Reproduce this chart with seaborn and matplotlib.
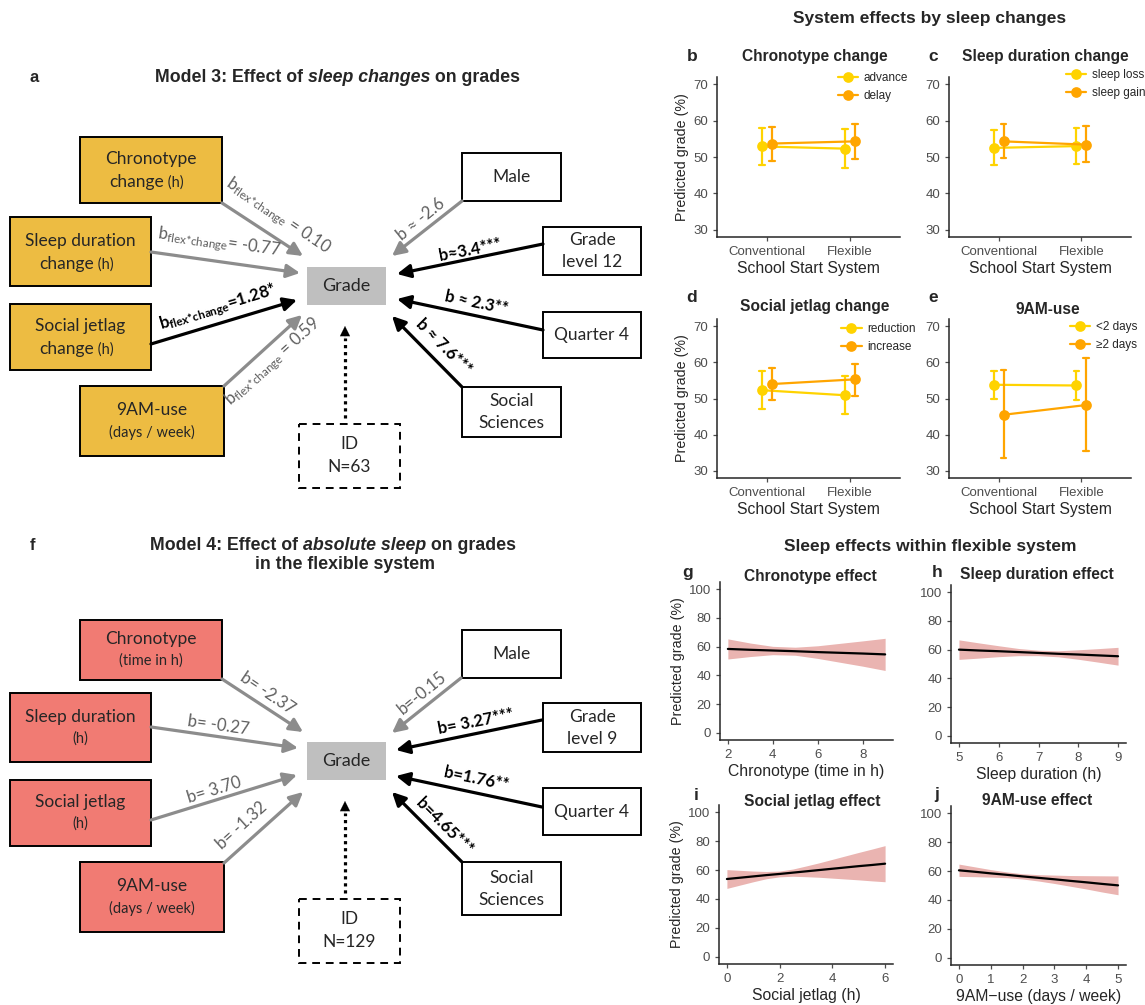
import numpy as np
import pandas as pd
import matplotlib
matplotlib.use('Agg')
import matplotlib.pyplot as plt
from matplotlib.patches import Rectangle
import seaborn as sns

# ---------------- data: panels b-e (rows = group, cols = system) ----------------
systems = ['Conventional', 'Flexible']

chrono_groups = ['advance', 'delay']
chrono_est = [[52.9, 52.3], [53.7, 54.3]]
chrono_lo = [[47.8, 47.0], [49.0, 49.5]]
chrono_hi = [[58.1, 57.6], [58.3, 59.1]]

sdur_groups = ['sleep loss', 'sleep gain']
sdur_est = [[52.5, 53.0], [54.3, 53.4]]
sdur_lo = [[47.8, 48.1], [49.6, 48.5]]
sdur_hi = [[57.5, 58.1], [59.0, 58.4]]

sjl_groups = ['reduction', 'increase']
sjl_est = [[52.3, 50.9], [54.0, 55.3]]
sjl_lo = [[47.2, 45.6], [49.5, 50.6]]
sjl_hi = [[57.6, 56.2], [58.5, 59.6]]

use9_groups = ['<2 days', '≥2 days']
use9_est = [[53.8, 53.6], [45.5, 48.2]]
use9_lo = [[50.0, 49.7], [33.6, 35.5]]
use9_hi = [[57.7, 57.7], [57.8, 61.2]]

# ---------------- data: panels g-j (fit and confidence band) ----------------
chrono_x = [2, 3, 4, 5, 6, 7, 8, 9]
chrono_fit = [58.4, 57.8, 57.3, 56.8, 56.2, 55.7, 55.2, 54.6]
chrono_band_lo = [51.4, 53.1, 54.4, 54.0, 51.8, 49.1, 46.4, 43.4]
chrono_band_hi = [65.4, 62.5, 60.2, 59.6, 60.6, 62.3, 64.0, 65.8]

dur_x = [5, 5.5, 6, 6.5, 7, 7.5, 8, 8.5, 9]
dur_fit = [60.0, 59.4, 58.9, 58.3, 57.7, 57.1, 56.6, 56.0, 55.4]
dur_band_lo = [53.2, 54.1, 55.1, 55.8, 55.8, 55.0, 53.3, 51.3, 49.2]
dur_band_hi = [66.8, 64.7, 62.7, 60.8, 59.6, 59.2, 59.9, 60.7, 61.6]

jet_x = [0, 0.5, 1, 1.5, 2, 2.5, 3, 3.5, 4, 4.5, 5, 5.5, 6]
jet_fit = [53.8, 54.7, 55.6, 56.5, 57.3, 58.2, 59.1, 60.0, 60.9, 61.8, 62.7, 63.5, 64.4]
jet_band_lo = [47.3, 49.6, 51.9, 54.0, 55.3, 55.7, 55.4, 55.0, 54.4, 53.8, 53.2, 52.5, 51.9]
jet_band_hi = [60.3, 59.8, 59.3, 59.0, 59.3, 60.7, 62.8, 65.0, 67.4, 69.8, 72.2, 74.5, 76.9]

am_x = [0, 0.5, 1, 1.5, 2, 2.5, 3, 3.5, 4, 4.5, 5]
am_fit = [60.5, 59.5, 58.4, 57.4, 56.3, 55.3, 54.3, 53.2, 52.2, 51.1, 50.1]
am_band_lo = [56.3, 56.1, 55.8, 55.4, 54.5, 53.1, 51.4, 49.5, 47.6, 45.5, 43.6]
am_band_hi = [64.8, 62.9, 61.0, 59.4, 58.1, 57.5, 57.2, 56.9, 56.8, 56.7, 56.6]

sns.set_style('ticks')
plt.rcParams['font.family'] = ['Liberation Sans', 'DejaVu Sans']
plt.rcParams['mathtext.fontset'] = 'custom'
plt.rcParams['mathtext.rm'] = 'Lato'
plt.rcParams['mathtext.bf'] = 'Lato:bold'
plt.rcParams['mathtext.it'] = 'Lato:italic'

W, H = 1145, 1005
fig = plt.figure(figsize=(W / 100, H / 100), dpi=100)

# full-figure axes in pixel units for the path diagrams
dg = fig.add_axes([0, 0, 1, 1])
dg.set_xlim(0, W)
dg.set_ylim(H, 0)
dg.axis('off')

DIAG = ['Lato', 'DejaVu Sans']
GOLD = '#EDBC42'
SALMON = '#F17B73'
GREYBOX = '#BFBFBF'
GREYARR = '#8C8C8C'
TXT = '#262626'


def box(x0, y0, x1, y1, fc, ls='-', ec='black'):
    dg.add_patch(Rectangle((x0, y0), x1 - x0, y1 - y0, fc=fc, ec=ec, lw=1.4, ls=ls))


def txt(x, y, s, size=12.5, **kw):
    dg.text(x, y, s, ha='center', va='center', fontsize=size, color=TXT, family=DIAG, **kw)


def arrow(p0, p1, color):
    dg.annotate('', xy=p1, xytext=p0,
                arrowprops=dict(arrowstyle='-|>', color=color, lw=2.3,
                                shrinkA=0, shrinkB=0, mutation_scale=20))


def label(x, y, s, rot, bold=False, size=12):
    dg.text(x, y, s, rotation=rot, rotation_mode='anchor', ha='center', va='center',
            fontsize=size, family=DIAG, color='black' if bold else '#5F5F5F',
            fontweight='bold' if bold else 'normal')


def title_parts(x, y, parts, size=12.8):
    t = dg.text(x, y, parts[0][0], fontsize=size, fontweight='bold', va='center', ha='left',
                style=parts[0][1])
    for s, st in parts[1:]:
        t = dg.annotate(s, xy=(1, 0), xycoords=t, va='bottom', ha='left',
                        fontsize=size, fontweight='bold', style=st)


def diagram(dy, fc, left_boxes, right_boxes, id_text, arrows, labels):
    # left predictor boxes
    for (x0, y0, x1, y1, l1, l2) in left_boxes:
        box(x0, y0 + dy, x1, y1 + dy, fc)
        cx = (x0 + x1) / 2
        cy = (y0 + y1) / 2 + dy
        if isinstance(l2, tuple):
            txt(cx, cy - 11, l1)
            dg.text(cx + 13, cy + 12, l2[0], ha='right', va='center', fontsize=12.5,
                    color=TXT, family=DIAG)
            dg.text(cx + 13, cy + 13, ' ' + l2[1], ha='left', va='center', fontsize=10.5,
                    color=TXT, family=DIAG)
        else:
            txt(cx, cy - 11, l1)
            txt(cx, cy + 11, l2, size=10.5)
    for (x0, y0, x1, y1, lines) in right_boxes:
        box(x0, y0 + dy, x1, y1 + dy, 'white')
        cx = (x0 + x1) / 2
        cy = (y0 + y1) / 2 + dy
        if len(lines) == 1:
            txt(cx, cy, lines[0])
        else:
            txt(cx, cy - 11, lines[0])
            txt(cx, cy + 11, lines[1])
    # outcome
    box(307, 267 + dy, 386, 305 + dy, GREYBOX, ec='none')
    txt(346.5, 286 + dy, 'Grade', size=13)
    # random effect
    box(299, 424 + dy, 400, 488 + dy, 'white', ls=(0, (4, 3)))
    txt(349.5, 444 + dy, 'ID')
    txt(349.5, 467 + dy, id_text)
    dg.plot([345, 345], [418 + dy, 338 + dy], color='black', lw=2.3, ls=(0, (1, 1.2)))
    dg.annotate('', xy=(345, 326 + dy), xytext=(345, 340 + dy),
                arrowprops=dict(arrowstyle='-|>', color='black', lw=0.1,
                                shrinkA=0, shrinkB=0, mutation_scale=18))
    for p0, p1, c in arrows:
        arrow((p0[0], p0[1] + dy), (p1[0], p1[1] + dy), c)
    for (x, y, s, r, b) in labels:
        label(x, y + dy, s, r, bold=b)


# ---------------- panel a ----------------
dg.text(30, 77, 'a', fontsize=12, fontweight='bold', va='center')
title_parts(155, 77, [('Model 3: Effect of ', 'normal'), ('sleep changes', 'italic'),
                      (' on grades', 'normal')])

left_a = [(80, 137, 222, 203, 'Chronotype', ('change', '(h)')),
          (10, 217, 151, 286, 'Sleep duration', ('change', '(h)')),
          (10, 304, 151, 370, 'Social jetlag', ('change', '(h)')),
          (80, 386, 224, 456, '9AM-use', '(days / week)')]
right_a = [(462, 153, 561, 201, ['Male']),
           (543, 227, 641, 275, ['Grade', 'level 12']),
           (543, 312, 641, 358, ['Quarter 4']),
           (462, 387, 561, 437, ['Social', 'Sciences'])]
arrows_a = [((222, 203), (303, 256), GREYARR),
            ((151, 252), (300, 273), GREYARR),
            ((151, 344), (297, 300), 'black'),
            ((224, 386), (302, 315), GREYARR),
            ((462, 201), (392, 256), GREYARR),
            ((543, 244), (397, 274), 'black'),
            ((543, 330), (397, 299), 'black'),
            ((462, 387), (392, 316), 'black')]
labels_a = [(278, 216, r'b$_{\mathrm{flex{*}change}}$ = 0.10', -34, False),
            (219, 243, r'b$_{\mathrm{flex{*}change}}$= -0.77', -8, False),
            (218, 308, r'b$_{\mathbf{flex{*}change}}$=1.28*', 17, True),
            (273, 362, r'b$_{\mathrm{flex{*}change}}$ = 0.59', 42, False),
            (421, 219, 'b ≈ -2.6', 39, False),
            (470, 250, 'b≈3.4***', 11, True),
            (476, 303, 'b ≈ 2.3**', -12, True),
            (444, 347, 'b ≈ 7.6***', -45, True)]
diagram(0, GOLD, left_a, right_a, 'N=63', arrows_a, labels_a)

# ---------------- panel f ----------------
dg.text(30, 545, 'f', fontsize=12, fontweight='bold', va='center')
title_parts(150, 545, [('Model 4: Effect of ', 'normal'), ('absolute sleep', 'italic'),
                       (' on grades', 'normal')])
dg.text(345, 564, 'in the flexible system', fontsize=12.8, fontweight='bold',
        ha='center', va='center')

dy = 475
left_f = [(80, 145, 222, 205, 'Chronotype', '(time in h)'),
          (10, 218, 151, 287, 'Sleep duration', '(h)'),
          (10, 305, 151, 371, 'Social jetlag', '(h)'),
          (80, 387, 224, 457, '9AM-use', '(days / week)')]
right_f = [(462, 155, 561, 203, ['Male']),
           (543, 228, 641, 277, ['Grade', 'level 9']),
           (543, 313, 641, 360, ['Quarter 4']),
           (462, 387, 561, 440, ['Social', 'Sciences'])]
arrows_f = [((222, 204), (303, 257), GREYARR),
            ((151, 252), (298, 273), GREYARR),
            ((151, 345), (297, 300), GREYARR),
            ((224, 388), (303, 317), GREYARR),
            ((461, 203), (392, 258), GREYARR),
            ((542, 245), (396, 275), 'black'),
            ((542, 332), (396, 301), 'black'),
            ((462, 387), (392, 317), 'black')]
labels_f = [(267, 218, 'b= -2.37', -34, False),
            (218, 250, 'b= -0.27', -8, False),
            (214, 315, 'b= 3.70', 17, False),
            (242, 351, 'b= -1.32', 42, False),
            (422, 218, 'b=-0.15', 39, False),
            (476, 247, 'b= 3.27***', 11, True),
            (476, 304, 'b=1.76**', -12, True),
            (444, 351, 'b=4.65***', -45, True)]
diagram(dy, SALMON, left_f, right_f, 'N=129', arrows_f, labels_f)


# ---------------- right side plots ----------------
def add_ax(x0, x1, y0, y1):
    return fig.add_axes([x0 / W, 1 - y1 / H, (x1 - x0) / W, (y1 - y0) / H])


def px_text(x, y, s, size, **kw):
    fig.text(x / W, 1 - y / H, s, fontsize=size, fontweight='bold', ha='center',
             va='center', **kw)


def style(ax, title, tpos, letter, lpos, ylabel, xlabel):
    sns.despine(ax=ax)
    for s in ['left', 'bottom']:
        ax.spines[s].set_linewidth(1.1)
    ax.tick_params(colors='#4D4D4D', labelsize=9.5, length=3, width=0.9)
    ax.set_xlabel(xlabel, fontsize=11.3, labelpad=2)
    ax.set_ylabel(ylabel if ylabel else '', fontsize=10.3, labelpad=3)
    px_text(tpos[0], tpos[1], title, 11.2)
    px_text(lpos[0], lpos[1], letter, 12.5)


def long_df(groups, est, lo, hi):
    rows = []
    for gi, g in enumerate(groups):
        for si, s in enumerate(systems):
            for v in (lo[gi][si], est[gi][si], hi[gi][si]):
                rows.append({'system': s, 'group': g, 'grade': v})
    return pd.DataFrame(rows)


def point_panel(ax, groups, est, lo, hi, title, tpos, letter, lpos, ylab, leg_anchor):
    df = long_df(groups, est, lo, hi)
    sns.pointplot(data=df, x='system', y='grade', hue='group', order=systems,
                  hue_order=groups, palette=['#FFD300', '#FFA500'], estimator='median',
                  errorbar=lambda v: (v.min(), v.max()), dodge=0.12, capsize=0.07,
                  markersize=6.5, linewidth=1.6, err_kws={'linewidth': 1.6}, ax=ax)
    ax.set_xlim(-0.6, 1.6)
    ax.set_ylim(28, 72)
    ax.set_yticks([30, 40, 50, 60, 70])
    style(ax, title, tpos, letter, lpos, ylab, 'School Start System')
    ax.legend(loc='upper left', bbox_to_anchor=leg_anchor, frameon=False, fontsize=8.5,
              handlelength=1.7, handletextpad=0.5, borderaxespad=0, borderpad=0,
              labelspacing=0.5, title=None)


ylab = 'Predicted grade (%)'
point_panel(add_ax(717, 900, 77, 237), chrono_groups, chrono_est, chrono_lo, chrono_hi,
            'Chronotype change', (815, 57), 'b', (692, 56), ylab, (0.66, 1.03))
point_panel(add_ax(949, 1131, 77, 237), sdur_groups, sdur_est, sdur_lo, sdur_hi,
            'Sleep duration change', (1045, 57), 'c', (933, 56), None, (0.645, 1.05))
point_panel(add_ax(717, 900, 319, 478), sjl_groups, sjl_est, sjl_lo, sjl_hi,
            'Social jetlag change', (815, 306), 'd', (692, 297), ylab, (0.68, 0.975))
point_panel(add_ax(949, 1131, 319, 478), use9_groups, use9_est, use9_lo, use9_hi,
            '9AM-use', (1048, 309), 'e', (933, 297), None, (0.665, 0.985))

px_text(930, 18, 'System effects by sleep changes', 12.5)
px_text(930, 546, 'Sleep effects within flexible system', 12.5)


def line_panel(ax, x, fit, lo, hi, xlim, xticks, title, tpos, letter, lpos, ylab, xlab):
    ax.fill_between(x, lo, hi, color='#EAB4B1', lw=0)
    sns.lineplot(x=x, y=fit, color='black', linewidth=1.6, ax=ax)
    ax.set_xlim(*xlim)
    ax.set_xticks(xticks)
    ax.set_ylim(-5, 105)
    ax.set_yticks([0, 20, 40, 60, 80, 100])
    style(ax, title, tpos, letter, lpos, ylab, xlab)


line_panel(add_ax(720, 893, 582, 740), chrono_x, chrono_fit, chrono_band_lo, chrono_band_hi,
           (1.65, 9.35), [2, 4, 6, 8], 'Chronotype effect', (810, 576), 'g', (688, 573),
           ylab, 'Chronotype (time in h)')
line_panel(add_ax(951, 1126, 585, 743), dur_x, dur_fit, dur_band_lo, dur_band_hi,
           (4.8, 9.2), [5, 6, 7, 8, 9], 'Sleep duration effect', (1037, 575), 'h', (937, 572),
           None, 'Sleep duration (h)')
line_panel(add_ax(719, 893, 805, 964), jet_x, jet_fit, jet_band_lo, jet_band_hi,
           (-0.3, 6.3), [0, 2, 4, 6], 'Social jetlag effect', (812, 801), 'i', (696, 795),
           ylab, 'Social jetlag (h)')
line_panel(add_ax(951, 1126, 806, 965), am_x, am_fit, am_band_lo, am_band_hi,
           (-0.25, 5.25), [0, 1, 2, 3, 4, 5], '9AM-use effect', (1037, 800), 'j', (937, 795),
           None, '9AM\u2212use (days / week)')

fig.savefig('out.png', dpi=100)
